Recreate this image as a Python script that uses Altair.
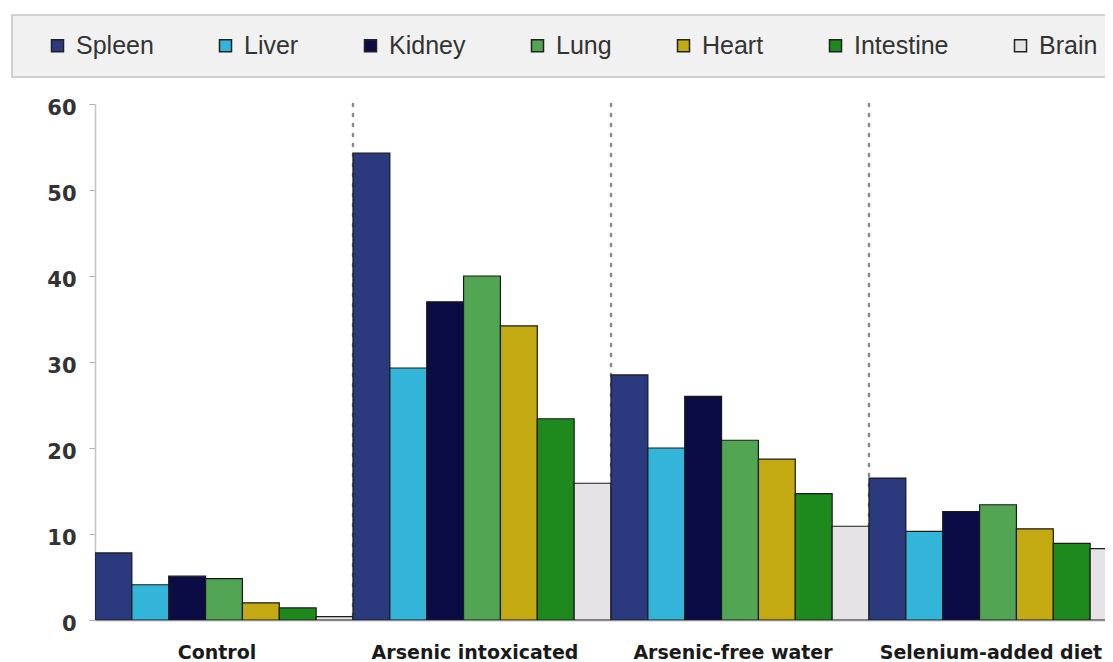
import altair as alt
import pandas as pd

groups = ["Control", "Arsenic intoxicated", "Arsenic-free water", "Selenium-added diet"]
organs = ["Spleen", "Liver", "Kidney", "Lung", "Heart", "Intestine", "Brain"]
colors = ["#2b3a7e", "#33b5d9", "#0b0c45", "#52a552", "#c4aa12", "#1e8a1e", "#e6e3e6"]

control = [7.8, 4.1, 5.1, 4.8, 2.0, 1.4, 0.4]
arsenic = [54.3, 29.3, 37.0, 40.0, 34.2, 23.4, 15.9]
free_water = [28.5, 20.0, 26.0, 20.9, 18.7, 14.7, 10.9]
selenium = [16.5, 10.3, 12.6, 13.4, 10.6, 8.9, 8.3]

y_ticks = [0, 10, 20, 30, 40, 50, 60]
separators = groups[1:]

series = [control, arsenic, free_water, selenium]
rows = []
for g, vals in zip(groups, series):
    for o, v in zip(organs, vals):
        rows.append({"group": g, "organ": o, "value": v})
df = pd.DataFrame(rows)
sep_df = pd.DataFrame({"group": separators})

x_scale = alt.Scale(domain=groups, paddingInner=0, paddingOuter=0, range=[0, 1032])

bars = alt.Chart(df).mark_bar(stroke="#1a1a1a", strokeWidth=1.2, clip=True).encode(
    x=alt.X("group:N", sort=groups, scale=x_scale,
            axis=alt.Axis(title=None, labelAngle=0, labelAlign="center",
                          ticks=False, tickSize=0, labelOffset=-7,
                          labelFont="DejaVu Sans", labelFontWeight="bold",
                          labelFontSize=19, labelColor="#1a1a1a", labelPadding=32,
                          labelLimit=400,
                          domainColor="#8a8a8a", domainWidth=1.5)),
    xOffset=alt.XOffset("organ:N", sort=organs,
                        scale=alt.Scale(domain=organs, paddingInner=0, paddingOuter=0)),
    y=alt.Y("value:Q", scale=alt.Scale(domain=[0, 60], nice=False),
            axis=alt.Axis(values=y_ticks, title=None, grid=False,
                          labelFont="DejaVu Sans", labelFontWeight="bold",
                          labelFontSize=21, labelColor="#333333", labelOffset=4,
                          tickColor="#b0b0b0", tickSize=6, labelPadding=13,
                          domainColor="#c4c4c4", domainWidth=1.5)),
    color=alt.Color("organ:N", sort=organs,
                    scale=alt.Scale(domain=organs, range=colors),
                    legend=alt.Legend(title=None, orient="none", direction="horizontal",
                                      legendX=-50, legendY=-71, gridAlign="each",
                                      symbolType="square", symbolSize=144,
                                      symbolStrokeColor="#222222", symbolStrokeWidth=1.5,
                                      labelFont="Liberation Sans", labelFontSize=25,
                                      labelColor="#333333", labelOffset=6,
                                      columnPadding=59, padding=0)),
)

rules = alt.Chart(sep_df).mark_rule(
    strokeDash=[2, 8], strokeWidth=2.5, color="#8a8a8a", strokeCap="round"
).encode(
    x=alt.X("group:N", sort=groups, scale=x_scale, bandPosition=0),
)

box = alt.Chart(pd.DataFrame({"box": [0]})).mark_rect(
    fill="#f1f1f1", stroke="#c4c4c4", strokeWidth=1.5
).encode(
    x=alt.value(-83), x2=alt.value(1040), y=alt.value(-89), y2=alt.value(-27)
)

chart = alt.layer(box, rules, bars).properties(
    width=1010, height=516,
    autosize=alt.AutoSizeParams(type="none"),
    padding={"left": 87, "top": 96, "right": 0, "bottom": 46},
    background="white",
).configure_view(stroke=None)

chart.save("out.html", embed_options={"renderer": "svg", "actions": False})
